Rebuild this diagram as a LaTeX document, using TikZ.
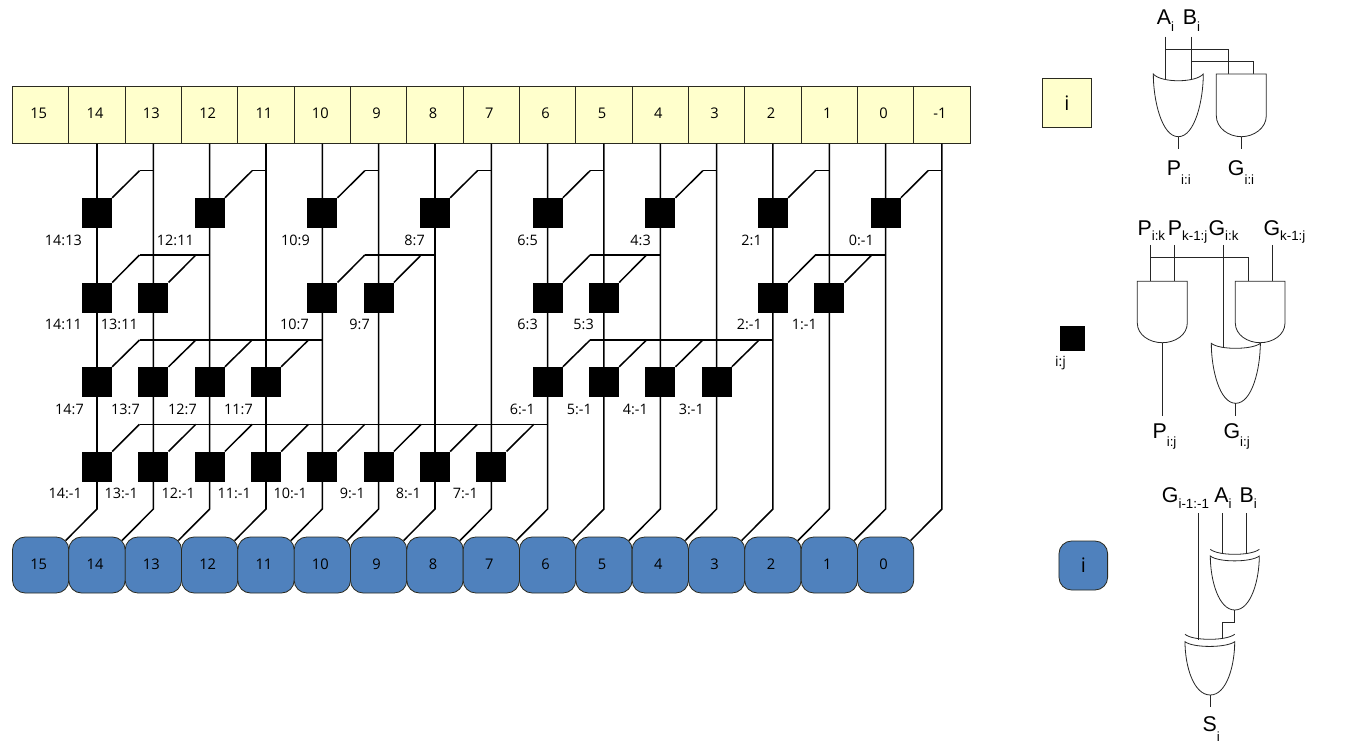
\documentclass[tikz,border=0pt]{standalone}
\usepackage{fontspec}
\setmainfont{Open Sans}
\newfontfamily\gatefont{Liberation Sans}
\usetikzlibrary{calc}
\definecolor{cellyellow}{HTML}{FFFFCC}
\definecolor{cellblue}{HTML}{4F81BD}
\definecolor{cellline}{HTML}{2A2A20}
\newcommand{\colx}[1]{\fpeval{97+(14-(#1))*56.33}}
\newcommand{\gatelabel}[3]{{\gatefont\fontsize{16}{16}\selectfont #1\raisebox{-#3pt}{\fontsize{10}{10}\selectfont #2}}}
\tikzset{
  x=0.75pt,y=-0.75pt,
  wire/.style={line width=1.15pt,black,line join=miter},
  gatewire/.style={line width=0.6pt,black!85},
  gateshape/.style={line width=0.6pt,black!85,fill=white},
  topcell/.style={draw=cellline,line width=0.6pt,fill=cellyellow,minimum width=42.25pt,minimum height=42.5pt,inner sep=0pt,font=\fontsize{11}{11}\selectfont},
  botcell/.style={draw=cellline,line width=0.6pt,fill=cellblue,rounded corners=9.5pt,minimum width=42.25pt,minimum height=42pt,inner sep=0pt,font=\fontsize{11}{11}\selectfont},
  pgnode/.style={fill=black,minimum size=22.4pt,inner sep=0pt},
  cut/.style={inner sep=0pt,anchor=east,font=\fontsize{10.8}{10.8}\selectfont},
  gatetext/.style={inner sep=0pt,anchor=base west},
}
\begin{document}
\begin{tikzpicture}
\useasboundingbox (0,0) rectangle (1350,756);
% top and bottom cells
\foreach \n in {15,14,...,-1}{
  \node[topcell] (t\n) at ({\colx{\n}},115) {\raisebox{3pt}{\n}\kern3pt};
}
\foreach \n in {15,14,...,0}{
  \node[botcell] (b\n) at ({\colx{\n}},565) {\raisebox{1.5pt}{\n}\kern3pt};
}
% vertical wires with their final diagonal into the sum cell
\foreach \n/\m in {14/15,13/14,12/13,11/12,10/11,9/10,8/9,7/8,6/7,5/6,4/5,3/4,2/3,1/2,0/1,-1/0}{
  \coordinate (k\n) at ({\colx{\n}},509);
  \coordinate (e\n) at ({\colx{\n}-31.3},540.5);
  \draw[wire] (t\n.south) -- (k\n) -- (e\n);
}
% prefix rows: row id / centre y / horizontal y / source column / node columns
\foreach \r/\y/\h/\src/\list in {
  1a/213/170.7/13/14,1b/213/170.7/11/12,1c/213/170.7/9/10,1d/213/170.7/7/8,
  1e/213/170.7/5/6,1f/213/170.7/3/4,1g/213/170.7/1/2,1h/213/170.7/-1/0,
  2a/297.7/255/12/{14,13},2b/297.7/255/8/{10,9},2c/297.7/255/4/{6,5},2d/297.7/255/0/{2,1},
  3a/382/340/10/{14,13,12,11},3b/382/340/2/{6,5,4,3},
  4a/466.7/424.3/6/{14,13,12,11,10,9,8,7}}{
  \foreach \n [count=\i] in \list {
    \node[pgnode] (s\r\n) at ({\colx{\n}},\y) {};
    \coordinate (d\r\n) at ({\colx{\n}+42.5},\h);
    \draw[wire] (s\r\n.north east) -- (d\r\n);
    \ifnum\i=1
      \draw[wire] (d\r\n) -- ({\colx{\src}},\h) coordinate (j\r);
    \fi
  }
}
% prefix labels: text / right edge / y
\foreach \t/\xr/\y/\k in {
  14:13/82/240/a,12:11/194/240/b,10:9/310/240/c,8:7/425/240/d,6:5/538/240/e,4:3/651/240/f,2:1/762/240/g,0:-1/874/240/h,
  14:11/82/324/i,13:11/138/324/j,10:7/309/324/k,9:7/370/324/l,6:3/538/324/m,5:3/594/324/n,2:-1/762/324/o,1:-1/817/324/p,
  14:7/84/409/q,13:7/140/409/r,12:7/197/409/s,11:7/253/409/t,6:-1/535/409/u,5:-1/592/409/v,4:-1/648/409/w,3:-1/704/409/x,
  14:-1/82/493/aa,13:-1/138/493/ab,12:-1/195/493/ac,11:-1/251/493/ad,10:-1/307/493/ae,9:-1/365/493/af,8:-1/421/493/ag,7:-1/478/493/ah}{
  \node[cut] (lab\k) at (\xr,\y) {\t};
}
% legend
\node[topcell,minimum width=36.75pt,minimum height=36.75pt,font=\fontsize{15}{15}\selectfont] (legY) at (1066.8,102.8) {i};
\node[pgnode,minimum size=18.75pt] (legS) at (1072.5,338.2) {};
\node[inner sep=0pt,font=\fontsize{10.5}{10.5}\selectfont] (legSt) at (1060.5,363) {i:j};
\node[botcell,minimum width=36.5pt,minimum height=36.75pt,font=\fontsize{15}{15}\selectfont] (legB) at (1083.3,565.5) {i};
% ---- gate 1: P and G
\node[gatetext] (A1) at (1156.7,25) {\gatelabel{A}{i}{5}};
\node[gatetext] (B1) at (1182.7,25) {\gatelabel{B}{i}{5}};
\node[gatetext] (P1) at (1166.7,176) {\gatelabel{P}{i:i}{6.5}};
\node[gatetext] (G1) at (1227.7,176) {\gatelabel{G}{i:i}{6.5}};
\draw[gatewire] (1165.7,37) -- (1165.7,80);
\draw[gatewire] (1191.3,37) -- (1191.3,80);
\draw[gatewire] (1165.7,49.3) -- (1228.3,49.3) -- (1228.3,74);
\draw[gatewire] (1191.3,61.7) -- (1253.3,61.7) -- (1253.3,74);
\draw[gateshape] (1153.3,74) .. controls (1161,83) and (1195.5,83) .. (1203.3,74)
  .. controls (1203.3,100) and (1195,136.7) .. (1178.3,136.7)
  .. controls (1161.6,136.7) and (1153.3,100) .. (1153.3,74) -- cycle;
\draw[gatewire] (1165.7,37) -- (1165.7,79.5);
\draw[gatewire] (1191.3,37) -- (1191.3,79.5);
\draw[gatewire] (1178.3,136.7) -- (1178.3,149.5);
\draw[gateshape] (1216.3,74) -- (1266.3,74) -- (1266.3,115.7)
  .. controls (1266.3,128) and (1254,136.7) .. (1241.3,136.7)
  .. controls (1228.6,136.7) and (1216.3,128) .. (1216.3,115.7) -- cycle;
\draw[gatewire] (1241.3,136.7) -- (1241.3,149.5);
% ---- gate 2: prefix cell
\node[gatetext] (P2a) at (1137.3,235) {\gatelabel{P}{i:k}{4.5}};
\node[gatetext] (P2b) at (1167.7,235) {\gatelabel{P}{k-1:j}{4.5}};
\node[gatetext] (G2a) at (1208.3,235) {\gatelabel{G}{i:k}{4.5}};
\node[gatetext] (G2b) at (1263.3,235) {\gatelabel{G}{k-1:j}{4.5}};
\node[gatetext] (P2c) at (1152.3,438.3) {\gatelabel{P}{i:j}{6}};
\node[gatetext] (G2c) at (1223.3,438.3) {\gatelabel{G}{i:j}{6}};
\draw[gatewire] (1150.3,245) -- (1150.3,281.3);
\draw[gatewire] (1174.3,245) -- (1174.3,281.3);
\draw[gatewire] (1150.3,257.3) -- (1248.3,257.3) -- (1248.3,281.3);
\draw[gatewire] (1272.3,245) -- (1272.3,281.3);
\draw[gateshape] (1137.3,281.3) -- (1187.3,281.3) -- (1187.3,323)
  .. controls (1187.3,335) and (1175,342.7) .. (1162.3,342.7)
  .. controls (1149.6,342.7) and (1137.3,335) .. (1137.3,323) -- cycle;
\draw[gatewire] (1162.3,342.7) -- (1162.3,416);
\draw[gateshape] (1235.3,281.3) -- (1285,281.3) -- (1285,323)
  .. controls (1285,335) and (1272.7,342.7) .. (1260.2,342.7)
  .. controls (1247.6,342.7) and (1235.3,335) .. (1235.3,323) -- cycle;
\draw[gatewire] (1223.3,245) -- (1223.3,348);
\draw[gatewire] (1260.3,342.7) -- (1260.3,346);
\draw[gateshape,fill=none] (1211.3,343.3) .. controls (1219,350) and (1252,350) .. (1260.3,343.3)
  .. controls (1260.3,369) and (1252,403.3) .. (1235.7,403.3)
  .. controls (1219.4,403.3) and (1211.3,369) .. (1211.3,343.3) -- cycle;
\draw[gatewire] (1235.7,403.3) -- (1235.7,416);
% ---- gate 3: sum
\node[gatetext] (G3) at (1161.7,502.3) {\gatelabel{G}{i-1:-1}{4.5}};
\node[gatetext] (A3) at (1214,502.3) {\gatelabel{A}{i}{4.5}};
\node[gatetext] (B3) at (1239.3,502.3) {\gatelabel{B}{i}{4.5}};
\node[gatetext] (S3) at (1202.3,731.7) {\gatelabel{S}{i}{7}};
\draw[gatewire] (1198,513.3) -- (1198,639.5);
\draw[gatewire] (1222.3,513.3) -- (1222.3,553.5);
\draw[gatewire] (1246.7,513.3) -- (1246.7,553.5);
\draw[gatewire] (1210.3,549.3) .. controls (1218,556) and (1251,556) .. (1259.3,549.3);
\draw[gateshape] (1210.3,556) .. controls (1218,562.5) and (1251,562.5) .. (1259.3,556)
  .. controls (1259.3,580) and (1251,610) .. (1234.8,610)
  .. controls (1218.5,610) and (1210.3,580) .. (1210.3,556) -- cycle;
\draw[gatewire] (1234.8,610) -- (1234.8,622.3) -- (1222.3,622.3) -- (1222.3,638.5);
\draw[gatewire] (1185,634.3) .. controls (1193,641) and (1226,641) .. (1234.7,634.3);
\draw[gateshape] (1185,641.7) .. controls (1193,648) and (1226,648) .. (1234.7,641.7)
  .. controls (1234.7,666) and (1226.5,695) .. (1210.3,695)
  .. controls (1193.5,695) and (1185,666) .. (1185,641.7) -- cycle;
\draw[gatewire] (1210.3,695) -- (1210.3,706.7);
\end{tikzpicture}
\end{document}
